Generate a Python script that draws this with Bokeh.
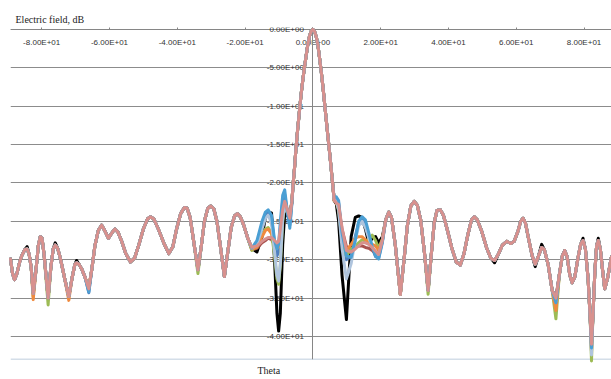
from bokeh.plotting import figure
from bokeh.models import Range1d, FixedTicker, CustomJSTickFormatter, LinearAxis, Title
from bokeh.embed import file_html
from bokeh.resources import INLINE

# ---------------- data ----------------
x_ticks = [-80, -60, -40, -20, 0, 20, 40, 60, 80]
y_ticks = [0, -5, -10, -15, -20, -25, -30, -35, -40]
x_min, x_max = -89.2, 88.1
y_min, y_max = -43.0, 0.25

# outer left side lobes (common to all series)
theta_left = [-89.2, -88.6, -88.0, -87.3, -86.5, -85.8, -85.0, -84.3, -83.7, -83.1,
              -82.5, -81.6, -81.0, -80.4, -79.9, -79.3, -78.1, -77.3, -76.6, -76.0,
              -75.3, -74.5, -73.2, -72.0, -71.0, -70.2, -69.7, -69.0, -68.2, -67.2,
              -66.1, -65.2, -64.3, -63.3, -62.3, -61.3, -60.3, -59.3, -58.4, -57.5,
              -56.4, -55.2, -53.8, -52.6, -51.3, -50.0, -48.8, -47.9, -46.9, -45.6,
              -44.0, -42.5, -41.3, -40.2, -39.0, -37.9, -37.1, -36.2, -35.2, -33.9,
              -32.9, -32.0, -31.0, -30.1, -29.2, -28.3, -27.2, -26.1, -25.1, -24.1,
              -23.1, -22.3, -21.4, -20.4, -19.2]
db_left = [-29.9, -31.8, -32.6, -31.8, -30.3, -29.4, -28.7, -28.6, -29.3, -31.0,
           -34.4, -31.0, -28.2, -27.0, -27.2, -29.3, -35.0, -31.0, -28.6, -28.1,
           -28.5, -29.8, -32.5, -34.8, -32.3, -30.6, -30.4, -30.6, -31.2, -32.3,
           -33.8, -31.2, -28.2, -26.2, -25.5, -26.3, -27.2, -26.5, -26.0, -26.4,
           -27.6, -29.2, -30.3, -29.8, -28.0, -26.0, -24.7, -24.4, -24.7, -26.0,
           -27.8, -29.2, -28.3, -26.0, -24.0, -23.2, -23.3, -24.5, -27.5, -31.3,
           -28.2, -25.0, -23.3, -23.0, -23.4, -25.0, -28.5, -32.2, -29.0, -25.8,
           -24.3, -24.0, -24.4, -25.5, -27.2]

# near-in left region where the series differ
theta_core_left = [-18.0, -16.5, -15.0, -14.0, -13.2, -12.2, -11.3, -10.6, -10.1, -9.6,
                   -8.9, -8.3, -7.5, -6.8, -6.2]
core_left = {
    "black":      [-28.5, -29.0, -27.0, -24.5, -23.8, -23.9, -30.0, -37.0, -39.3, -37.0, -28.0, -24.0, -24.3, -24.0, -22.5],
    "darkblue":   [-28.6, -27.8, -25.6, -24.2, -23.8, -24.5, -28.0, -29.5, -29.0, -26.0, -22.3, -21.5, -24.0, -25.5, -22.6],
    "maroon":     [-28.7, -28.5, -27.8, -27.5, -27.2, -27.4, -28.0, -28.3, -28.0, -26.5, -23.8, -22.7, -23.5, -24.5, -22.5],
    "green":      [-28.8, -28.2, -26.8, -26.0, -25.8, -26.5, -29.5, -32.5, -33.2, -30.8, -25.0, -22.9, -23.6, -24.5, -22.5],
    "orange":     [-28.6, -28.4, -27.0, -26.2, -26.0, -26.6, -27.8, -28.5, -28.3, -26.8, -24.0, -22.8, -23.6, -24.6, -22.5],
    "lightsteel": [-28.5, -28.0, -26.0, -24.6, -24.2, -25.2, -29.0, -32.0, -32.8, -30.5, -24.8, -22.6, -23.8, -24.8, -22.5],
    "teal":       [-28.5, -27.5, -25.0, -23.8, -23.5, -24.2, -27.5, -28.6, -28.0, -25.0, -21.6, -20.9, -23.8, -25.9, -22.8],
    "salmon":     [-28.4, -28.2, -27.6, -27.3, -27.1, -27.1, -27.5, -27.8, -27.6, -26.0, -23.5, -22.4, -23.5, -24.6, -22.5],
}

# main lobe (common)
theta_lobe = [-5.8, -5.4, -5.0, -4.5, -4.0, -3.5, -3.0, -2.5, -2.0, -1.5, -1.0, -0.5, 0.0,
              0.5, 1.0, 1.5, 2.0, 2.5, 3.0, 3.5, 4.0, 4.5, 5.0, 5.5, 5.9]
db_lobe = [-20.0, -18.0, -15.6, -13.1, -10.8, -8.6, -6.7, -5.0, -3.5, -2.0, -0.9, -0.25, 0.0,
           -0.25, -0.95, -2.1, -3.8, -5.6, -7.6, -9.8, -12.0, -14.2, -16.3, -18.6, -20.4]

# near-in right region where the series differ
theta_core_right = [6.3, 6.9, 7.6, 8.6, 9.9, 11.3, 12.5, 13.5, 14.5, 15.5, 16.5, 17.5, 18.5, 19.4, 20.5]
core_right = {
    "black":      [-22.3, -22.7, -25.0, -32.0, -37.8, -27.0, -24.5, -24.3, -24.5, -26.0, -27.9, -27.2, -27.0, -27.8, -27.0],
    "darkblue":   [-22.2, -22.0, -22.6, -27.0, -30.0, -29.5, -27.0, -25.2, -24.8, -25.4, -27.0, -28.5, -29.6, -29.8, -27.6],
    "maroon":     [-22.3, -22.6, -23.2, -26.0, -28.3, -28.6, -28.4, -28.2, -28.2, -28.4, -28.5, -28.8, -29.2, -29.2, -27.5],
    "green":      [-22.3, -22.5, -23.6, -27.5, -29.5, -28.6, -28.2, -27.8, -27.4, -27.6, -27.3, -26.8, -27.5, -28.5, -27.3],
    "orange":     [-22.3, -22.5, -23.3, -26.5, -28.8, -28.0, -27.2, -27.0, -27.0, -27.4, -27.9, -28.0, -28.2, -28.8, -27.4],
    "lightsteel": [-22.2, -22.3, -23.5, -28.5, -32.5, -30.5, -27.5, -25.6, -25.0, -25.8, -27.2, -28.3, -29.0, -29.4, -27.6],
    "teal":       [-22.0, -21.8, -22.3, -26.5, -29.5, -29.7, -27.5, -25.0, -24.4, -24.8, -26.5, -28.3, -29.5, -29.9, -27.8],
    "salmon":     [-22.2, -22.6, -22.8, -25.8, -28.8, -29.0, -28.6, -28.2, -27.8, -27.8, -28.0, -28.4, -28.9, -29.3, -27.5],
}

# outer right side lobes (common to all series)
theta_right = [21.5, 22.4, 23.2, 24.3, 25.8, 26.9, 27.9, 28.9, 29.9, 30.8,
               31.8, 32.9, 34.0, 35.0, 35.8, 36.6, 37.6, 38.5, 39.6, 41.0,
               42.3, 43.5, 44.6, 45.7, 46.8, 47.6, 48.5, 49.8, 51.3, 52.5,
               53.6, 54.7, 55.9, 57.2, 58.4, 59.4, 60.5, 61.3, 62.0, 62.7,
               63.7, 64.7, 65.6, 66.5, 67.5, 68.3, 69.4, 70.6, 71.7, 72.7,
               73.6, 74.3, 75.0, 75.8, 76.5, 77.3, 78.2, 79.0, 79.7, 80.4,
               81.2, 81.8, 82.2, 82.6, 83.2, 83.7, 84.2, 84.8, 85.5, 86.1,
               86.9, 87.6, 88.1]
db_right = [-24.8, -23.8, -24.5, -28.0, -34.5, -30.0, -25.5, -23.0, -22.4, -22.9,
            -24.8, -29.0, -34.0, -29.0, -25.2, -23.6, -23.5, -24.2, -26.0, -28.5,
            -30.3, -30.7, -29.2, -26.8, -24.8, -24.4, -24.8, -26.3, -28.5, -29.8,
            -30.1, -29.3, -28.1, -27.6, -27.9, -27.6, -26.3, -25.0, -24.6, -25.2,
            -27.4, -29.5, -30.6, -29.6, -28.4, -28.7, -30.6, -34.0, -35.0, -32.0,
            -29.5, -28.8, -29.6, -32.0, -33.0, -32.2, -29.8, -28.0, -27.5, -28.6,
            -32.5, -37.5, -41.0, -37.5, -31.5, -28.2, -27.5, -28.6, -31.5, -33.8,
            -32.5, -30.8, -29.6]

# per-series values that differ from the common outer curve (null tips, peaks)
tips = {
    "black":      {-84.3: -28.3, -76.0: -27.8, -69.7: -30.1, 53.6: -30.4, 65.6: -30.9, 67.5: -28.0, 79.7: -27.2, 84.2: -27.2},
    "darkblue":   {-78.1: -35.0, -66.1: -34.3, 71.7: -35.8, 82.2: -41.8},
    "maroon":     {71.7: -35.3},
    "green":      {-82.5: -34.8, -78.1: -35.9, -33.9: -31.8, 34.0: -34.5, 71.7: -37.7, 82.2: -43.2},
    "orange":     {-82.5: -35.2, -72.0: -35.3, -66.1: -33.6, 71.7: -36.6, 82.2: -42.0},
    "lightsteel": {-78.1: -34.9, 71.7: -35.4, 82.2: -42.4},
    "teal":       {-66.1: -34.2, 25.8: -34.2, 71.7: -35.6, 82.2: -41.5},
    "salmon":     {},
}

series_names = ["black", "darkblue", "maroon", "green", "orange", "lightsteel", "teal", "salmon"]
colors = {
    "black": "#000000",
    "darkblue": "#4F7FBF",
    "maroon": "#A9514F",
    "green": "#9DBB55",
    "orange": "#F08A3E",
    "lightsteel": "#AFC4DD",
    "teal": "#4A9FD4",
    "salmon": "#D8918E",
}

# ---------------- figure ----------------
p = figure(width=611, height=379,
           x_range=Range1d(x_min, x_max), y_range=Range1d(y_min, y_max),
           output_backend="svg", toolbar_location=None,
           min_border_left=10, min_border_right=0, min_border_top=27, min_border_bottom=20)
p.outline_line_color = None
p.background_fill_color = "white"
p.border_fill_color = "white"

fmt = CustomJSTickFormatter(code="""
    const v = tick;
    if (v == 0) return "0.00E+00";
    let e = Math.floor(Math.log10(Math.abs(v)));
    let m = v / Math.pow(10, e);
    if (Math.abs(m) >= 9.995) { m /= 10; e += 1; }
    const es = (e < 0 ? "-" : "+") + String(Math.abs(e)).padStart(2, "0");
    return m.toFixed(2) + "E" + es;
""")

axis_gray = "#868686"
label_color = "#333333"

xa = p.xaxis[0]
xa.fixed_location = 0
xa.ticker = FixedTicker(ticks=x_ticks)
xa.formatter = fmt
xa.major_tick_in = 4
xa.major_tick_out = 0
xa.minor_tick_line_color = None
xa.major_label_standoff = 9
xa.axis_line_color = axis_gray
xa.major_tick_line_color = axis_gray
xa.major_label_text_font = "Liberation Sans"
xa.major_label_text_font_size = "8px"
xa.major_label_text_color = label_color

ya = p.yaxis[0]
ya.fixed_location = 0
ya.ticker = FixedTicker(ticks=y_ticks)
ya.formatter = fmt
ya.major_tick_in = 0
ya.major_tick_out = 4
ya.minor_tick_line_color = None
ya.major_label_standoff = 5
ya.axis_line_color = axis_gray
ya.major_tick_line_color = axis_gray
ya.major_label_text_font = "Liberation Sans"
ya.major_label_text_font_size = "8px"
ya.major_label_text_color = label_color

bottom = LinearAxis(fixed_location=y_min, ticker=FixedTicker(ticks=[]),
                    axis_line_color="#A9BDD2", axis_line_width=1.5,
                    major_tick_line_color=None, minor_tick_line_color=None,
                    major_label_text_font_size="0px")
p.add_layout(bottom, "below")

p.xgrid.visible = False
p.ygrid.ticker = FixedTicker(ticks=y_ticks)
p.ygrid.grid_line_color = "#8C8C8C"
p.ygrid.grid_line_width = 1

for name in series_names:
    t = tips[name]
    left = [t.get(th, v) for th, v in zip(theta_left, db_left)]
    right = [t.get(th, v) for th, v in zip(theta_right, db_right)]
    xs = theta_left + theta_core_left + theta_lobe + theta_core_right + theta_right
    ys = left + core_left[name] + db_lobe + core_right[name] + right
    p.line(xs, ys, line_color=colors[name], line_width=3, line_join="round",
           line_cap="round", level="overlay")

p.add_layout(Title(text="Electric field, dB", align="left", offset=5, standoff=6,
                   text_font="Liberation Serif", text_font_size="10px",
                   text_font_style="normal", text_color="#222222"), "above")
p.add_layout(Title(text="Theta", align="left", offset=247, standoff=6,
                   text_font="Liberation Serif", text_font_size="10px",
                   text_font_style="normal", text_color="#222222"), "below")

open("out.html", "w").write(file_html(p, INLINE))
